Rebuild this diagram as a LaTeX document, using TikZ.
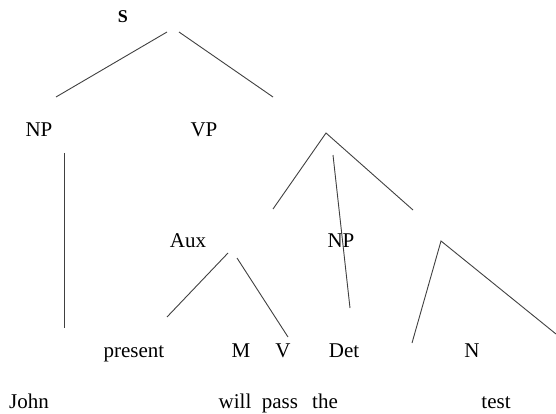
\documentclass[tikz,border=0pt]{standalone}
\usepackage{fontspec}
\setmainfont{Liberation Serif}
\usepackage{tikz}

\begin{document}
\begin{tikzpicture}[x=1pt, y=-1pt,
  font=\fontsize{21}{24}\selectfont,
  lbl/.style={anchor=base, inner sep=0pt},
  branch/.style={black!75, line width=0.9pt}]
\useasboundingbox (0,0) rectangle (556,414);
\node[lbl, font=\fontsize{18}{20}\selectfont\bfseries] (s) at (123,23) {S};
\node[lbl] (np) at (39,137) {NP};
\node[lbl] (vp) at (204,137) {VP};
\node[lbl] (aux) at (188,247) {Aux};
\node[lbl] (np2) at (341,247) {NP};
\node[lbl] (present) at (134,357) {present};
\node[lbl] (m) at (241,357) {M};
\node[lbl] (v) at (283,357) {V};
\node[lbl] (det) at (344,357) {Det};
\node[lbl] (n) at (472,357) {N};
\node[lbl] (john) at (29,408) {John};
\node[lbl] (will) at (235,408) {will};
\node[lbl] (pass) at (280,408) {pass};
\node[lbl] (the) at (325,408) {the};
\node[lbl] (test) at (496,408) {test};
\coordinate (s-l) at (167,32);  \coordinate (np-t) at (56,97);
\coordinate (s-r) at (179,32);  \coordinate (vp-t) at (273,97);
\coordinate (np-a) at (64,153); \coordinate (np-b) at (64,328);
\coordinate (vp-top) at (326,133);
\coordinate (vp-l) at (273,209); \coordinate (vp-r) at (413,210);
\coordinate (det-a) at (333,155); \coordinate (det-b) at (350,308);
\coordinate (aux-l) at (228,253); \coordinate (aux-ll) at (167,317);
\coordinate (aux-r) at (237,258); \coordinate (aux-rr) at (288,337);
\coordinate (n-top) at (441,241);
\coordinate (n-l) at (412,343); \coordinate (n-r) at (556,334);
\draw[branch] (s-l) -- (np-t);
\draw[branch] (s-r) -- (vp-t);
\draw[branch] (np-a) -- (np-b);
\draw[branch] (vp-l) -- (vp-top) -- (vp-r);
\draw[branch] (det-a) -- (det-b);
\draw[branch] (aux-l) -- (aux-ll);
\draw[branch] (aux-r) -- (aux-rr);
\draw[branch] (n-l) -- (n-top) -- (n-r);
\end{tikzpicture}
\end{document}
